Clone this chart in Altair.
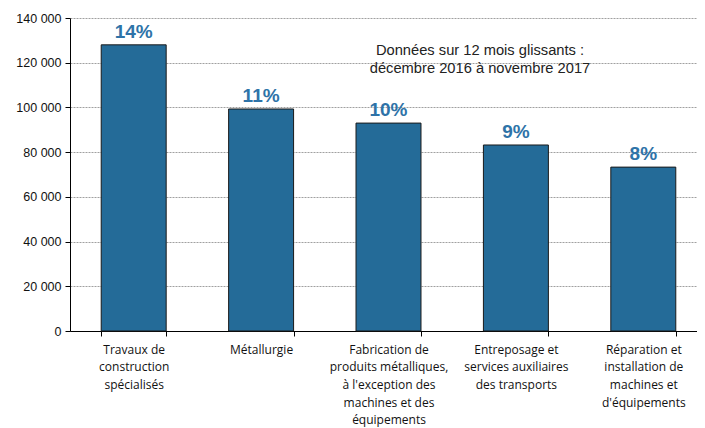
import altair as alt
import pandas as pd

categories = [
    "Travaux de|construction|spécialisés",
    "Métallurgie",
    "Fabrication de|produits métalliques,|à l'exception des|machines et des|équipements",
    "Entreposage et|services auxiliaires|des transports",
    "Réparation et|installation de|machines et|d'équipements",
]
values = [128000, 99300, 93000, 83200, 73300]
shares = ["14%", "11%", "10%", "9%", "8%"]
y_ticks = [0, 20000, 40000, 60000, 80000, 100000, 120000, 140000]
note_text = "Données sur 12 mois glissants :|décembre 2016 à novembre 2017"

df = pd.DataFrame({"cat": categories, "value": values, "share": shares})

x = alt.X(
    "cat:N",
    sort=None,
    title=None,
    scale=alt.Scale(paddingInner=0.49, paddingOuter=0.245, range=[0, 637]),
    axis=alt.Axis(
        labelAngle=0,
        labelExpr="split(datum.label, '|')",
        labelFont="Open Sans",
        labelFontSize=12,
        labelLineHeight=17.7,
        labelColor="#111111",
        labelPadding=8,
        labelLimit=200,
        tickBand="extent",
        tickSize=5,
        tickColor="#000000",
        domainColor="#000000",
        grid=False,
    ),
)
y = alt.Y(
    "value:Q",
    title=None,
    scale=alt.Scale(domain=[0, 140000], nice=False),
    axis=alt.Axis(
        values=y_ticks,
        labelExpr="replace(format(datum.value, ','), regexp(',', 'g'), ' ')",
        labelFont="Liberation Sans",
        labelFontSize=12.5,
        labelColor="#111111",
        tickSize=5,
        tickColor="#000000",
        domainColor="#000000",
        gridColor="#a0a0a0",
        gridDash=[2, 1],
        gridWidth=1,
        labelPadding=4,
    ),
)

bars = alt.Chart(df).mark_bar(
    color="#246b98", stroke="#1a1a1a", strokeWidth=1
).encode(x=x, y=y)

labels = alt.Chart(df).mark_text(
    font="Liberation Sans", fontSize=19, fontWeight="bold", color="#2e73a8",
    baseline="alphabetic", dy=-7,
).encode(x=alt.X("cat:N", sort=None), y="value:Q", text="share:N")

note = alt.Chart(pd.DataFrame({"t": [note_text]})).mark_text(
    font="Liberation Sans", fontSize=14.7, color="#222222", align="center",
    baseline="middle", lineBreak="|", lineHeight=18,
).encode(text="t:N", x=alt.value(410), y=alt.value(33))

chart = alt.layer(bars, labels, note).properties(
    width=627, height=313,
    autosize=alt.AutoSizeParams(type="none"),
    padding={"left": 62, "top": 10, "right": 0, "bottom": 98},
).configure_view(stroke=None)

chart.save("out.html", embed_options={"renderer": "svg", "actions": False})
